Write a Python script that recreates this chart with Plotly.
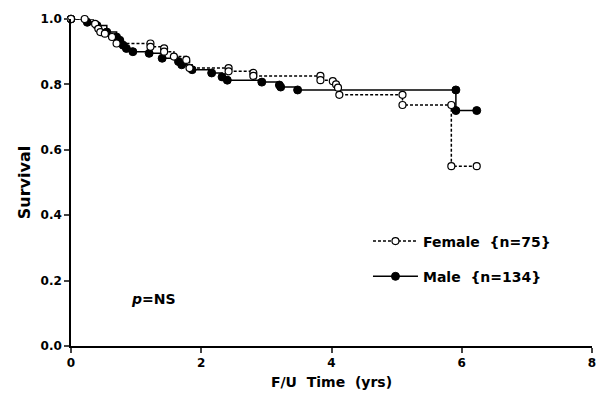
import plotly.graph_objects as go

# Female (open circles, dashed)
female_t = [0, 0.21, 0.37, 0.42, 0.45, 0.52, 0.63, 0.70, 1.22, 1.22, 1.43, 1.43, 1.58, 1.77, 1.82,
            2.42, 2.42, 2.80, 2.80, 3.83, 3.83, 4.02, 4.07, 4.10, 4.12, 5.09, 5.09, 5.84, 5.84, 6.23]
female_s = [1.0, 1.0, 0.985, 0.97, 0.96, 0.955, 0.945, 0.925, 0.925, 0.915, 0.91, 0.90, 0.885, 0.875, 0.85,
            0.85, 0.84, 0.835, 0.826, 0.826, 0.813, 0.81, 0.80, 0.79, 0.768, 0.768, 0.737, 0.737, 0.55, 0.55]

# Male (filled circles, solid)
male_t = [0, 0.25, 0.40, 0.55, 0.70, 0.75, 0.80, 0.85, 0.95, 1.20, 1.40, 1.65, 1.70, 1.86,
          2.16, 2.32, 2.40, 2.93, 3.20, 3.22, 3.48, 5.91, 5.91, 6.23]
male_s = [1.0, 0.99, 0.98, 0.96, 0.945, 0.935, 0.92, 0.91, 0.90, 0.895, 0.88, 0.87, 0.86, 0.845,
          0.835, 0.823, 0.813, 0.807, 0.798, 0.792, 0.783, 0.783, 0.72, 0.72]

x_ticks = [0, 2, 4, 6, 8]
y_ticks = [0.0, 0.2, 0.4, 0.6, 0.8, 1.0]
y_tick_labels = ["0.0", "0.2", "0.4", "0.6", "0.8", "1.0"]

FONT = "DejaVu Sans"

fig = go.Figure()
fig.add_trace(go.Scatter(
    x=male_t, y=male_s, mode="lines+markers", line_shape="hv",
    name="Male\u00a0\u00a0{n=134}", legendgroup="b", legendrank=2,
    line=dict(color="black", width=1.5),
    marker=dict(symbol="circle", size=8, color="black", line=dict(color="black", width=1)),
    cliponaxis=False,
))
fig.add_trace(go.Scatter(
    x=female_t, y=female_s, mode="lines+markers", line_shape="hv",
    name="Female\u00a0\u00a0{n=75}", legendgroup="a", legendrank=1,
    line=dict(color="black", width=1.5, dash="3px,2px"),
    marker=dict(symbol="circle", size=7, color="white", line=dict(color="black", width=1.2)),
    cliponaxis=False,
))

fig.update_layout(
    width=601, height=394,
    margin=dict(l=71, r=5, t=19, b=48),
    paper_bgcolor="white", plot_bgcolor="white",
    font=dict(family=FONT, color="black", size=12, weight="bold"),
    legend=dict(
        x=0.57, y=0.266, xanchor="left", yanchor="middle",
        traceorder="grouped", tracegroupgap=14, itemwidth=45,
        font=dict(family=FONT, size=14, weight="bold"),
        bgcolor="rgba(0,0,0,0)",
    ),
    showlegend=True,
    xaxis=dict(
        range=[0, 8], tickvals=x_ticks, ticks="outside", ticklen=5, tickwidth=1.5,
        showline=True, linecolor="black", linewidth=1.5, showgrid=False, zeroline=False,
        tickfont=dict(size=12, family=FONT, weight="bold"),
        title=dict(text="F/U\u00a0\u00a0Time\u00a0\u00a0(yrs)", font=dict(size=14, family=FONT, weight="bold"), standoff=8),
    ),
    yaxis=dict(
        range=[0, 1], tickvals=y_ticks, ticktext=y_tick_labels, ticks="outside", ticklen=5, tickwidth=1.5,
        showline=True, linecolor="black", linewidth=1.5, showgrid=False, zeroline=False,
        tickfont=dict(size=12, family=FONT, weight="bold"),
        title=dict(text="Survival", font=dict(size=16, family=FONT, weight="bold"), standoff=6),
    ),
    annotations=[dict(
        x=1.27, y=0.145, xref="x", yref="y", text="<i>p</i>=NS", showarrow=False,
        font=dict(size=14, family=FONT, weight="bold"), xanchor="center", yanchor="middle",
    )],
)

fig.write_html("out.html")
